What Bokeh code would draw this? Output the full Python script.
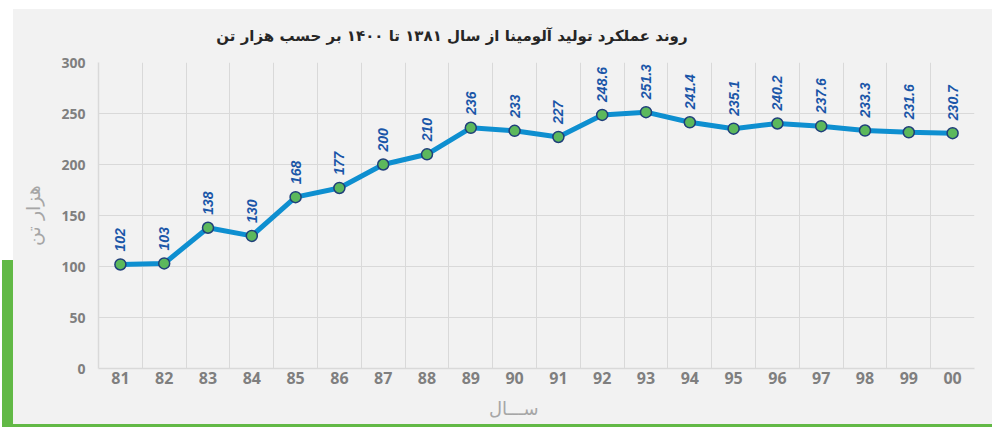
from bokeh.plotting import figure
from bokeh.models import FixedTicker, Title, ColumnDataSource
from bokeh.core.properties import value
from bokeh.embed import file_html
from bokeh.resources import INLINE

years = ["81", "82", "83", "84", "85", "86", "87", "88", "89", "90",
         "91", "92", "93", "94", "95", "96", "97", "98", "99", "00"]
production = [102, 103, 138, 130, 168, 177, 200, 210, 236, 233,
              227, 248.6, 251.3, 241.4, 235.1, 240.2, 237.6, 233.3, 231.6, 230.7]
y_ticks = [0, 50, 100, 150, 200, 250, 300]

title_text = "روند عملکرد تولید آلومینا از سال ۱۳۸۱ تا ۱۴۰۰ بر حسب هزار تن"
y_title = "هزار تن"
x_title = "ســـال"

xs = list(range(len(years)))
labels = [("%g" % v) for v in production]
src = ColumnDataSource(dict(x=xs, y=production, lab=labels))

BG = "#f2f2f2"
GRID = "#d9d9d9"
GREEN = "#62B946"

page_bg = {
    "background-color": "#ffffff",
    "background-image": ", ".join(["linear-gradient(%s, %s)" % (c, c) for c in (GREEN, GREEN, BG)]),
    "background-position": "2px 260px, 13px 424px, 13px 9px",
    "background-size": "11px 167px, 979px 3px, 979px 418px",
    "background-repeat": "no-repeat",
}

p = figure(width=992, height=427, output_backend="svg", toolbar_location=None,
           x_range=(-0.5, len(years) - 0.5), y_range=(0, 300),
           min_border_left=98, min_border_right=18, min_border_top=62, min_border_bottom=56,
           styles=page_bg)
p.background_fill_color = BG
p.border_fill_alpha = 0
p.outline_line_color = None

p.title = Title(text=title_text, align="right", offset=287, standoff=36,
                text_font="DejaVu Sans", text_font_style="bold",
                text_font_size="15px", text_color="#262626")

p.xaxis.ticker = FixedTicker(ticks=xs)
p.xaxis.major_label_overrides = {i: y for i, y in enumerate(years)}
p.yaxis.ticker = FixedTicker(ticks=y_ticks)
p.xgrid.ticker = FixedTicker(ticks=[i - 0.5 for i in range(len(years) + 1)])
p.ygrid.ticker = FixedTicker(ticks=y_ticks)
p.xgrid.grid_line_color = GRID
p.ygrid.grid_line_color = GRID

for ax in (p.xaxis, p.yaxis):
    ax.axis_line_color = GRID
    ax.axis_line_width = 1.5
    ax.major_tick_line_color = None
    ax.major_tick_out = 0
    ax.major_tick_in = 0
    ax.minor_tick_line_color = None
    ax.major_label_text_color = "#7f7f7f"
    ax.major_label_text_font = "Open Sans"
    ax.major_label_text_font_style = "bold"
p.xaxis.major_label_text_font_size = "16px"
p.yaxis.major_label_text_font_size = "14px"
p.xaxis.major_label_standoff = 3
p.yaxis.major_label_standoff = 13

p.yaxis.axis_label = y_title
p.yaxis.axis_label_text_font = "DejaVu Sans"
p.yaxis.axis_label_text_font_style = "normal"
p.yaxis.axis_label_text_font_size = "19px"
p.yaxis.axis_label_text_color = "#a6a6a6"
p.yaxis.axis_label_standoff = 14

p.add_layout(Title(text=x_title, align="right", offset=436, standoff=18,
                   text_font="DejaVu Sans", text_font_style="normal",
                   text_font_size="18px", text_color="#a6a6a6"), "below")

p.line("x", "y", source=src, line_color="#0E8FD0", line_width=5)
p.scatter("x", "y", source=src, size=11, fill_color="#5CB85C",
          line_color="#1F3F7A", line_width=1.5)
p.text("x", "y", text="lab", source=src, angle=1.5708, text_align="left",
       text_baseline="middle", y_offset=-13, text_font=value("Liberation Sans"),
       text_font_style="bold italic", text_font_size="14px", text_color="#1A56A8")

open("out.html", "w").write(file_html(p, INLINE))
